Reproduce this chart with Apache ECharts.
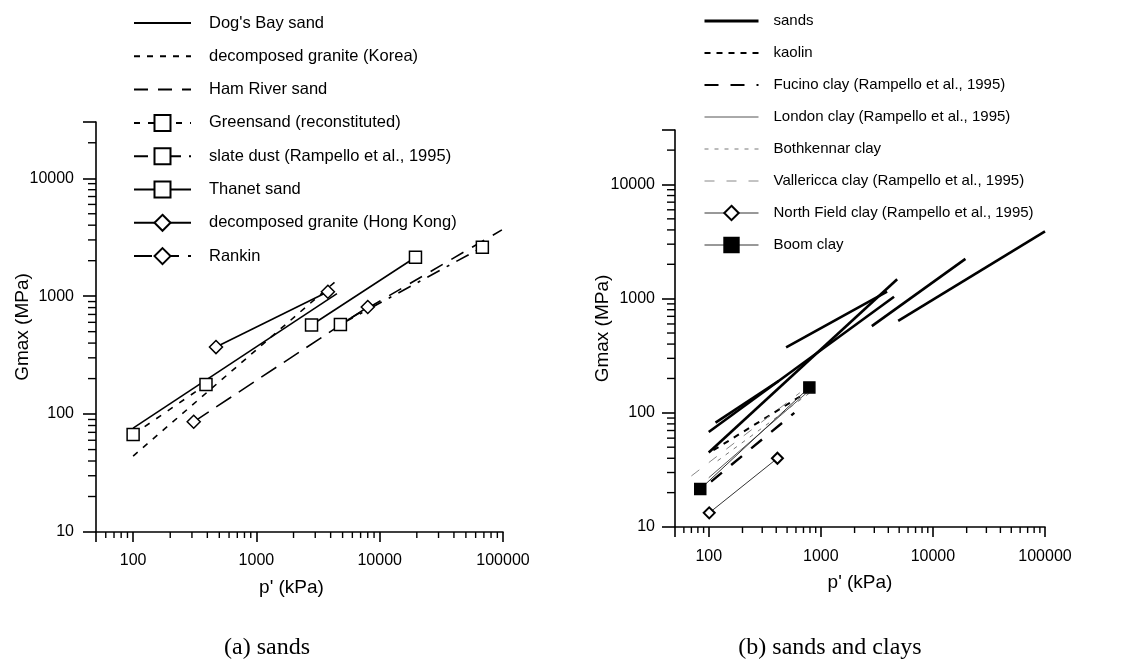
<!DOCTYPE html>
<html>
<head>
<meta charset="utf-8">
<title>Gmax - p'</title>
<script src="https://cdn.jsdelivr.net/npm/echarts@6/dist/echarts.min.js"></script>
<style>
    html, body { margin: 0; padding: 0; background: #fff; }
    #main { width: 1133px; height: 669px; }
</style>
</head>
<body>
<div id="main"></div>
<script>
// (a) sands  -- [p' (kPa), Gmax (MPa)]
var dogsBay = [[100, 76], [4500, 1050]];
var graniteKorea = [[100, 44], [4700, 1420]];
var hamRiver = [[5500, 630], [98000, 3650]];
var greensand = [[100, 67], [390, 178]];
var slateDust = [[4800, 575], [68000, 2600]];
var thanet = [[2800, 570], [19500, 2140]];
var graniteHK = [[470, 370], [3800, 1090]];
var rankin = [[310, 86], [8000, 810]];

// (b) sands and clays
var sandLines = [
    [[100, 68], [4500, 1040]],
    [[115, 82], [420, 190]],
    [[100, 45], [4800, 1480]],
    [[490, 375], [3900, 1150]],
    [[2850, 575], [19500, 2230]],
    [[4900, 640], [100000, 3880]]
];
var kaolin = [[110, 47], [700, 145]];
var fucino = [[105, 25], [580, 100]];
var londonClay = [[100, 27], [750, 150]];
var bothkennar = [[120, 38], [800, 150]];
var vallericca = [[70, 28], [650, 150]];
var northField = [[101, 13.3], [410, 40]];
var boomClay = [[84, 21.5], [790, 167]];

// axes
var xRange = [50, 100000];
var yRange = [10, 30000];
var xMinorTicks = [60, 70, 80, 90, 200, 300, 400, 500, 600, 700, 800, 900,
    2000, 3000, 4000, 5000, 6000, 7000, 8000, 9000,
    20000, 30000, 40000, 50000, 60000, 70000, 80000, 90000];
var yMinorTicks = [20, 30, 40, 50, 60, 70, 80, 90, 200, 300, 400, 500, 600, 700, 800, 900,
    2000, 3000, 4000, 5000, 6000, 7000, 8000, 9000, 20000];

var legendA = ["Dog's Bay sand", "decomposed granite (Korea)", "Ham River sand", "Greensand (reconstituted)",
    "slate dust (Rampello et al., 1995)", "Thanet sand", "decomposed granite (Hong Kong)", "Rankin"];
var legendB = ["sands", "kaolin", "Fucino clay (Rampello et al., 1995)", "London clay (Rampello et al., 1995)",
    "Bothkennar clay", "Vallericca clay (Rampello et al., 1995)", "North Field clay (Rampello et al., 1995)", "Boom clay"];

var FONT = "Liberation Sans, Arial, sans-serif";
var chart = echarts.init(document.getElementById("main"));

function lineSeries(name, data, gi, opt) {
    return {
        name: name,
        type: "line",
        xAxisIndex: gi,
        yAxisIndex: gi,
        data: data,
        symbol: opt.symbol || "none",
        symbolSize: opt.size || 12,
        showSymbol: !!opt.symbol,
        lineStyle: { color: opt.color || "#000", width: opt.width || 1.6, type: opt.dash || "solid" },
        itemStyle: { color: opt.fill || "#fff", borderColor: "#000", borderWidth: opt.border || 1.5 },
        emphasis: { disabled: true },
        animation: false,
        z: 3
    };
}

// 次刻度 (custom series, 0 = x axis, 1 = y axis)
function minorTickSeries(gi) {
    var data = [];
    for (var i = 0; i < xMinorTicks.length; i++) data.push([xMinorTicks[i], yRange[0], 0]);
    for (var j = 0; j < yMinorTicks.length; j++) data.push([xRange[0], yMinorTicks[j], 1]);
    return {
        type: "custom",
        name: "minor" + gi,
        xAxisIndex: gi,
        yAxisIndex: gi,
        silent: true,
        animation: false,
        data: data,
        encode: { x: 0, y: 1 },
        renderItem: function (params, api) {
            var pt = api.coord([api.value(0), api.value(1)]);
            var shape = api.value(2) === 0
                ? { x1: pt[0], y1: pt[1], x2: pt[0], y2: pt[1] + 6 }
                : { x1: pt[0] - 8, y1: pt[1], x2: pt[0], y2: pt[1] };
            return { type: "line", shape: shape, style: { stroke: "#000", lineWidth: 1.4 } };
        },
        z: 2
    };
}

function powerLabel(v) {
    var l = Math.log(v) / Math.LN10;
    return Math.abs(l - Math.round(l)) < 1e-6 ? String(Math.round(v)) : "";
}

function xAxis(gi, margin, namePad) {
    return {
        type: "log", logBase: 10, gridIndex: gi, min: xRange[0], max: xRange[1],
        name: "p' (kPa)", nameLocation: "middle", nameGap: 46, nameMoveOverlap: false,
        nameTextStyle: { fontFamily: FONT, fontSize: 19, color: "#000", padding: namePad },
        axisLine: { lineStyle: { color: "#000", width: 1.6 } },
        axisTick: { length: 10, lineStyle: { color: "#000", width: 1.6 } },
        axisLabel: { fontFamily: FONT, fontSize: 16, color: "#000", margin: margin, formatter: powerLabel },
        splitLine: { show: false },
        minorTick: { show: false }
    };
}

function yAxis(gi, margin, gap) {
    return {
        type: "log", logBase: 10, gridIndex: gi, min: yRange[0], max: yRange[1],
        name: "Gmax (MPa)", nameLocation: "middle", nameGap: gap, nameMoveOverlap: false,
        nameTextStyle: { fontFamily: FONT, fontSize: 19, color: "#000" },
        axisLine: { lineStyle: { color: "#000", width: 1.6 } },
        axisTick: { length: 13, lineStyle: { color: "#000", width: 1.6 } },
        axisLabel: { fontFamily: FONT, fontSize: 16, color: "#000", margin: margin, formatter: powerLabel },
        splitLine: { show: false },
        minorTick: { show: false }
    };
}

var series = [
    lineSeries(legendA[0], dogsBay, 0, {}),
    lineSeries(legendA[1], graniteKorea, 0, { dash: [6, 7] }),
    lineSeries(legendA[2], hamRiver, 0, { dash: [14, 10] }),
    lineSeries(legendA[3], greensand, 0, { dash: [6, 8], symbol: "rect" }),
    lineSeries(legendA[4], slateDust, 0, { dash: [14, 8, 3, 8], symbol: "rect" }),
    lineSeries(legendA[5], thanet, 0, { symbol: "rect" }),
    lineSeries(legendA[6], graniteHK, 0, { symbol: "diamond", size: 13 }),
    lineSeries(legendA[7], rankin, 0, { dash: [18, 9], symbol: "diamond", size: 13 }),
    minorTickSeries(0),
    minorTickSeries(1)
];
for (var k = 0; k < sandLines.length; k++) {
    series.push(lineSeries("sands", sandLines[k], 1, { width: 2.6 }));
}
series.push(lineSeries(legendB[1], kaolin, 1, { width: 2, dash: [6, 6] }));
series.push(lineSeries(legendB[2], fucino, 1, { width: 2.4, dash: [14, 12] }));
series.push(lineSeries(legendB[3], londonClay, 1, { width: 1, color: "#555" }));
series.push(lineSeries(legendB[4], bothkennar, 1, { width: 1, color: "#777", dash: [4, 6] }));
series.push(lineSeries(legendB[5], vallericca, 1, { width: 1, color: "#888", dash: [10, 12] }));
series.push(lineSeries(legendB[6], northField, 1, { width: 1, color: "#333", symbol: "diamond", size: 11, border: 2 }));
series.push(lineSeries(legendB[7], boomClay, 1, { width: 1, color: "#333", symbol: "rect", size: 11, fill: "#000" }));

function legendData(names, noMark, widths) {
    return names.map(function (n, i) {
        var item = { name: n };
        if (noMark.indexOf(i) > -1) item.itemStyle = { opacity: 0 };
        if (widths && widths[i]) item.lineStyle = { width: widths[i] };
        return item;
    });
}

chart.setOption({
    backgroundColor: "#fff",
    animation: false,
    grid: [
        { left: 96, top: 122, width: 407, height: 410 },
        { left: 675, top: 130, width: 370, height: 397 }
    ],
    xAxis: [xAxis(0, 21, [0, 16, 0, 0]), xAxis(1, 22, 0)],
    yAxis: [yAxis(0, 22, 64), yAxis(1, 20, 63)],
    legend: [
        {
            orient: "vertical", left: 133, top: 13, padding: 0,
            itemWidth: 57, itemHeight: 20, itemGap: 13.3,
            selectedMode: false,
            textStyle: { fontFamily: FONT, fontSize: 16.5, color: "#000", lineHeight: 20, padding: [0, 0, 0, 13] },
            data: legendData(legendA, [0, 1, 2])
        },
        {
            orient: "vertical", left: 703, top: 12, padding: 0,
            itemWidth: 54, itemHeight: 18, itemGap: 14,
            selectedMode: false,
            textStyle: { fontFamily: FONT, fontSize: 15, color: "#000", lineHeight: 18, padding: [0, 0, 0, 10] },
            data: legendData(legendB, [0, 1, 2, 3, 4, 5], [3, 2, 2, 1, 1, 1, 1, 1])
        }
    ],
    graphic: [
        { type: "text", x: 267, y: 648, style: { text: "(a) sands", fontFamily: "Liberation Serif, Times New Roman, serif", fontSize: 24, fill: "#000", textAlign: "center", textVerticalAlign: "middle" } },
        { type: "text", x: 830, y: 648, style: { text: "(b) sands and clays", fontFamily: "Liberation Serif, Times New Roman, serif", fontSize: 24, fill: "#000", textAlign: "center", textVerticalAlign: "middle" } }
    ],
    series: series
});
</script>
</body>
</html>
